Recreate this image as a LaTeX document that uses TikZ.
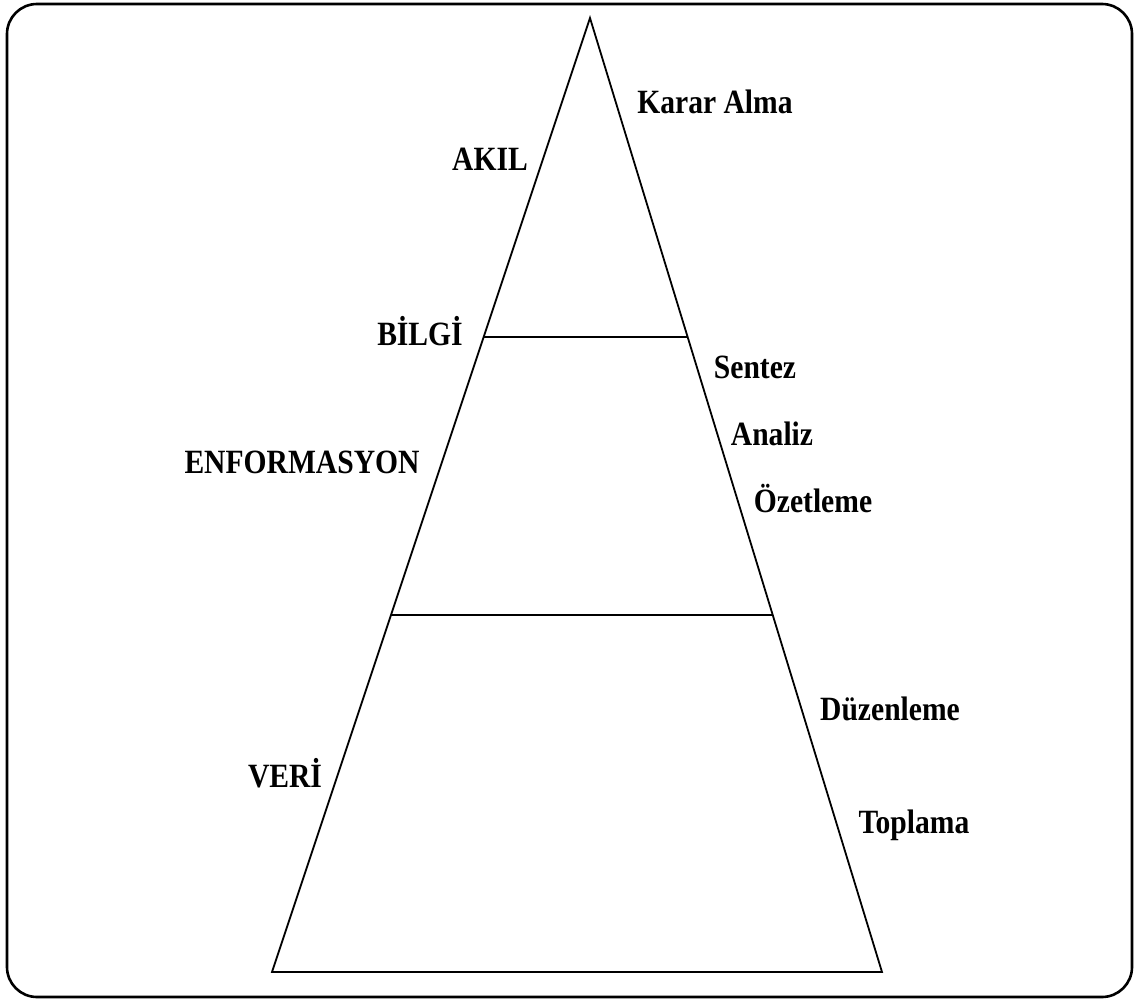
\documentclass[tikz,border=0pt]{standalone}
\usepackage{fontspec}
\usetikzlibrary{calc}
\newfontfamily\lblfont[FakeStretch=0.87]{Liberation Serif}
\begin{document}
\begin{tikzpicture}[x=1pt,y=-1pt,
  frame/.style={line width=2.6pt,rounded corners=30pt},
  edge/.style={line width=1.8pt},
  level/.style={line width=2.2pt},
  lbl/.style={anchor=base,inner sep=0pt,font=\lblfont\bfseries\fontsize{34}{40}\selectfont}]
  \useasboundingbox (0,0) rectangle (1135,1001);
  % outer frame
  \draw[frame] (7,4) rectangle (1132,997);
  % pyramid
  \coordinate (apex) at (590,18);
  \coordinate (bl) at (272,972);
  \coordinate (br) at (882,972);
  \draw[edge] (bl) -- (apex) -- (br) -- cycle;
  % level separators
  \coordinate (l1) at ($(apex)!0.3344!(bl)$);
  \coordinate (r1) at ($(apex)!0.3344!(br)$);
  \coordinate (l2) at ($(apex)!0.6258!(bl)$);
  \coordinate (r2) at ($(apex)!0.6258!(br)$);
  \draw[level] (l1) -- (r1);
  \draw[level] (l2) -- (r2);
  % level names
  \node[lbl] (akil) at (490,170) {AKIL};
  \node[lbl] (bilgi) at (420,345) {BİLGİ};
  \node[lbl] (enf) at (302,473) {ENFORMASYON};
  \node[lbl] (veri) at (285,787) {VERİ};
  % processes
  \node[lbl] (karar) at (715,113) {Karar Alma};
  \node[lbl] (sentez) at (755,378) {Sentez};
  \node[lbl] (analiz) at (772,445) {Analiz};
  \node[lbl] (ozet) at (813,512) {Özetleme};
  \node[lbl] (duzen) at (890,720) {Düzenleme};
  \node[lbl] (topla) at (914,833) {Toplama};
\end{tikzpicture}
\end{document}
